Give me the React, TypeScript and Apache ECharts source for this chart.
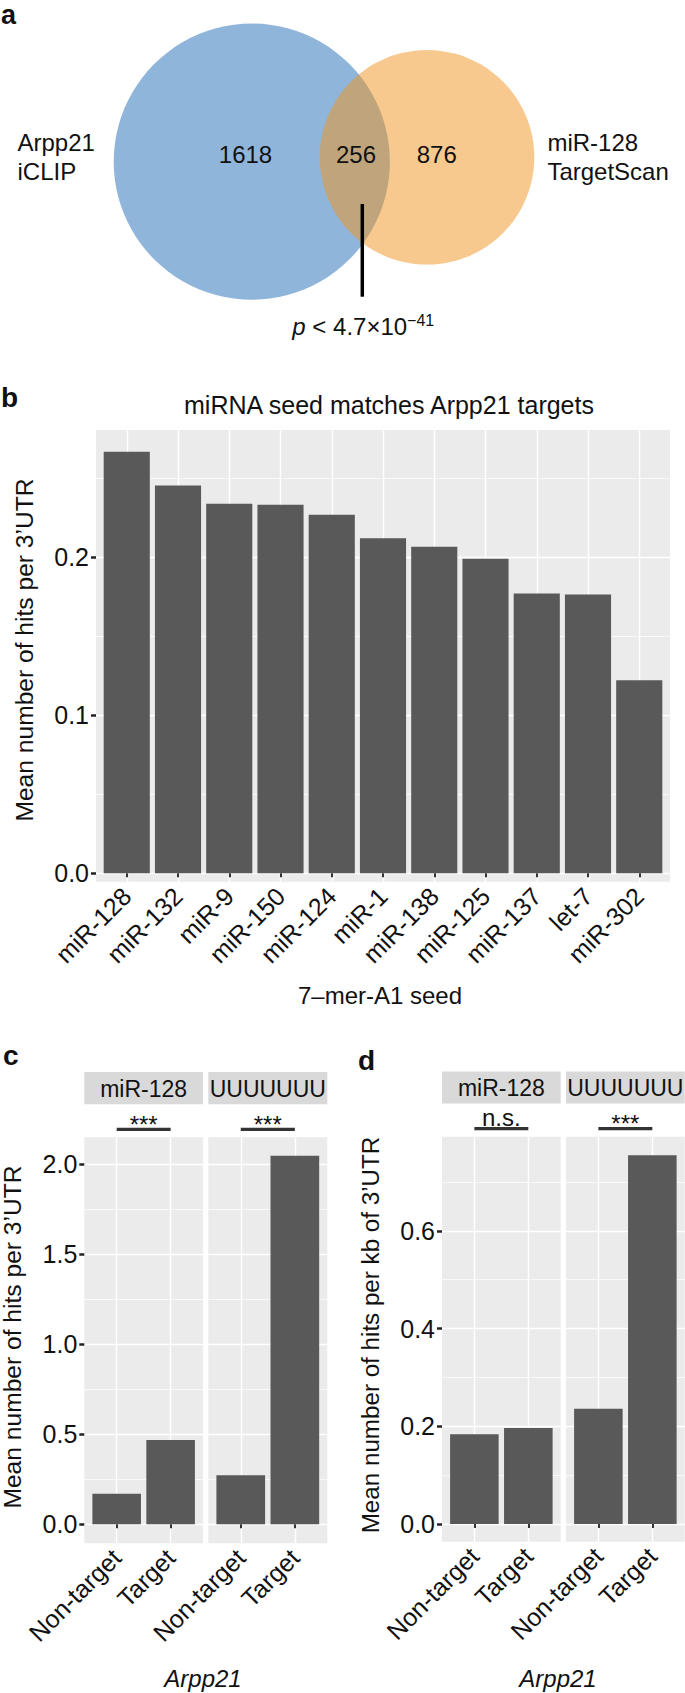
import React, { useEffect, useRef } from "react";
import * as echarts from "echarts";

// ---------- data ----------
const vennSetA = ["Arpp21", "iCLIP"];
const vennSetB = ["miR-128", "TargetScan"];
const vennCounts = [1618, 256, 876]; // only A, A∩B, only B
const vennPText = "4.7×10";
const vennPExp = "−41";

const seedCategories = ["miR-128", "miR-132", "miR-9", "miR-150", "miR-124", "miR-1", "miR-138", "miR-125", "miR-137", "let-7", "miR-302"];
const seedValues = [0.267, 0.2455, 0.234, 0.2334, 0.227, 0.2121, 0.2068, 0.1992, 0.1771, 0.1766, 0.1223];
const seedTicks = [0, 0.1, 0.2];
const seedMinor = [0.05, 0.15, 0.25];

const groupCategories = ["Non-target", "Target"];
const facetLabels = ["miR-128", "UUUUUUU"];
const hitsPerUTR_miR128 = [0.17, 0.468];
const hitsPerUTR_U7 = [0.272, 2.048];
const hitsPerKb_miR128 = [0.1836, 0.1965];
const hitsPerKb_U7 = [0.236, 0.755];
const cTicks = [0, 0.5, 1, 1.5, 2];
const cMinor = [0.25, 0.75, 1.25, 1.75];
const dTicks = [0, 0.2, 0.4, 0.6];
const dMinor = [0.1, 0.3, 0.5, 0.7];
const cSignif = ["***", "***"];
const dSignif = ["n.s.", "***"];

// ---------- style / layout ----------
const FONT = '"Liberation Sans", Arial, Helvetica, sans-serif';
const TEXT = "#111111";
const BAR = "#595959";
const PANEL_BG = "#ebebeb";
const STRIP_BG = "#d9d9d9";
const AXIS_FS = 25;

type Panel = {
  left: number; top: number; width: number; height: number;
  ymin: number; ymax: number; cats: string[]; values: number[];
  ticks: number[]; minor: number[]; showY: boolean;
};

const panels: Panel[] = [
  { left: 96, top: 430, width: 574, height: 451.7, ymin: -0.0053, ymax: 0.2807, cats: seedCategories, values: seedValues, ticks: seedTicks, minor: seedMinor, showY: true },
  { left: 84.3, top: 1137.3, width: 118.7, height: 406, ymin: -0.1056, ymax: 2.15, cats: groupCategories, values: hitsPerUTR_miR128, ticks: cTicks, minor: cMinor, showY: true },
  { left: 208.3, top: 1137.3, width: 119, height: 406, ymin: -0.1056, ymax: 2.15, cats: groupCategories, values: hitsPerUTR_U7, ticks: cTicks, minor: cMinor, showY: false },
  { left: 442, top: 1136.7, width: 118.7, height: 405, ymin: -0.0362, ymax: 0.7928, cats: groupCategories, values: hitsPerKb_miR128, ticks: dTicks, minor: dMinor, showY: true },
  { left: 566, top: 1136.7, width: 118.7, height: 405, ymin: -0.0362, ymax: 0.7928, cats: groupCategories, values: hitsPerKb_U7, ticks: dTicks, minor: dMinor, showY: false },
];

const catX = (p: Panel, j: number) => p.left + ((j + 1 - 0.4) / (p.cats.length + 0.2)) * p.width;

const txt = (text: string, x: number, y: number, extra: any = {}, el: any = {}) => ({
  type: "text",
  x,
  y,
  silent: true,
  ...el,
  style: { text, fontSize: 24, fontFamily: FONT, fill: TEXT, align: "center", verticalAlign: "middle", ...extra },
});

function buildOption() {
  const grid = panels.map((p) => ({
    left: p.left, top: p.top, width: p.width, height: p.height,
    show: true, backgroundColor: PANEL_BG, borderWidth: 0, containLabel: false,
  }));

  const xAxis = panels.map((p, i) => {
    const idx = p.cats.map((_, j) => j + 1);
    return {
      type: "value", gridIndex: i, min: 0.4, max: p.cats.length + 0.6,
      axisLine: { show: false },
      axisTick: { show: true, customValues: idx, length: 4, lineStyle: { color: "#333", width: 2 } },
      axisLabel: {
        customValues: idx,
        formatter: (v: number) => p.cats[Math.round(v) - 1] ?? "",
        rotate: 45, fontSize: AXIS_FS, fontFamily: FONT, color: TEXT, margin: 10,
      },
      splitLine: { show: true, lineStyle: { color: "#ffffff", width: 1.4 } },
    };
  });

  const yAxis: any[] = [];
  panels.forEach((p, i) => {
    yAxis.push({
      type: "value", gridIndex: i, min: p.ymin, max: p.ymax, position: "left",
      axisLine: { show: false },
      axisTick: { show: p.showY, customValues: p.ticks, length: 5, lineStyle: { color: "#222", width: 2.5 } },
      axisLabel: {
        show: p.showY, customValues: p.ticks,
        formatter: (v: number) => Number(v).toFixed(1),
        fontSize: AXIS_FS, fontFamily: FONT, color: TEXT, margin: 7,
      },
      splitLine: { show: true, lineStyle: { color: "#ffffff", width: 1.4 } },
    });
    yAxis.push({
      type: "value", gridIndex: i, min: p.ymin, max: p.ymax, position: "left",
      axisLine: { show: false },
      axisTick: { show: false, customValues: p.minor },
      axisLabel: { show: false },
      splitLine: { show: true, lineStyle: { color: "#ffffff", width: 0.7 } },
    });
  });

  const series = panels.map((p, i) => ({
    type: "bar",
    xAxisIndex: i,
    yAxisIndex: 2 * i,
    data: p.values.map((v, j) => [j + 1, v]),
    barWidth: (0.9 * p.width) / (p.cats.length + 0.2),
    itemStyle: { color: BAR },
    silent: true,
  }));

  // ---- Venn (panel a) ----
  const VENN_SCALE = 3.19; // px per sqrt(genes): circle area proportional to set size
  const rA = VENN_SCALE * Math.sqrt(vennCounts[0] + vennCounts[1]);
  const rB = VENN_SCALE * Math.sqrt(vennCounts[1] + vennCounts[2]);
  const A = { cx: 251.8, cy: 161.7 };
  const B = { cx: 427, cy: 157.3 };

  const graphic: any[] = [
    { type: "circle", silent: true, shape: { cx: A.cx, cy: A.cy, r: rA }, style: { fill: "rgba(31,109,181,0.5)" } },
    { type: "circle", silent: true, shape: { cx: B.cx, cy: B.cy, r: rB }, style: { fill: "rgba(241,147,29,0.5)" } },
    txt(vennSetA[0], 17.5, 142, { align: "left" }),
    txt(vennSetA[1], 17.5, 171, { align: "left" }),
    txt(vennSetB[0], 547.4, 142, { align: "left" }),
    txt(vennSetB[1], 547.4, 171, { align: "left" }),
    txt(String(vennCounts[0]), 245.5, 154.5),
    txt(String(vennCounts[1]), 356, 154.5),
    txt(String(vennCounts[2]), 436.7, 154.5),
    { type: "line", silent: true, shape: { x1: 362.3, y1: 204, x2: 362.3, y2: 296.7 }, style: { stroke: "#000", lineWidth: 3.5 } },
    txt(`{it|p} < ${vennPText}{sup|${vennPExp}}`, 363.3, 326, {
      rich: {
        it: { fontStyle: "italic", fontSize: 24, fontFamily: FONT, fill: TEXT },
        sup: { fontSize: 16, fontFamily: FONT, fill: TEXT, verticalAlign: "top", padding: [0, 0, 11, 0] },
      },
    }),
    // panel letters
    txt("a", 1, 15, { align: "left", fontSize: 27, fontWeight: "bold", lineHeight: 20 }),
    txt("b", 1, 397, { align: "left", fontSize: 28, fontWeight: "bold", lineHeight: 20 }),
    txt("c", 3, 1055, { align: "left", fontSize: 28, fontWeight: "bold", lineHeight: 20 }),
    txt("d", 358, 1060, { align: "left", fontSize: 28, fontWeight: "bold", lineHeight: 20 }),
    // panel b titles
    txt("miRNA seed matches Arpp21 targets", 389, 405, { fontSize: 25 }),
    txt("7–mer-A1 seed", 380, 995, { fontSize: 24 }),
    txt("Mean number of hits per 3’UTR", 24, 650, { fontSize: 24.6 }, { rotation: Math.PI / 2 }),
    // panel c / d titles
    txt("Mean number of hits per 3’UTR", 12.5, 1337, { fontSize: 24.6 }, { rotation: Math.PI / 2 }),
    txt("Mean number of hits per kb of 3’UTR", 370, 1335, { fontSize: 24.2 }, { rotation: Math.PI / 2 }),
    txt("Arpp21", 203, 1678, { fontStyle: "italic" }),
    txt("Arpp21", 558, 1678, { fontStyle: "italic" }),
  ];

  // strips + significance annotations for facet panels
  const facetPanels = [panels[1], panels[2], panels[3], panels[4]];
  const sigs = [cSignif[0], cSignif[1], dSignif[0], dSignif[1]];
  facetPanels.forEach((p, k) => {
    const stripTop = p.top - 65.3;
    graphic.push({ type: "rect", silent: true, shape: { x: p.left, y: stripTop, width: p.width, height: 32.2 }, style: { fill: STRIP_BG } });
    graphic.push(txt(facetLabels[k % 2], p.left + p.width / 2, stripTop + 16.5, { fontSize: 23 }));
    const x1 = catX(p, 0);
    const x2 = catX(p, 1);
    graphic.push({ type: "line", silent: true, shape: { x1, y1: p.top - 8, x2, y2: p.top - 8 }, style: { stroke: "#333", lineWidth: 3.3 } });
    const s = sigs[k];
    graphic.push(txt(s, (x1 + x2) / 2, s === "***" ? p.top - 13 : p.top - 19, { fontSize: 24 }));
  });

  return {
    animation: false,
    backgroundColor: "#ffffff",
    grid,
    xAxis,
    yAxis,
    series,
    graphic,
  };
}

export default function App() {
  const ref = useRef<HTMLDivElement>(null);
  useEffect(() => {
    if (!ref.current) return;
    const chart = echarts.init(ref.current, null, { renderer: "svg" });
    chart.setOption(buildOption() as any);
    return () => chart.dispose();
  }, []);
  return (
    <div
      ref={ref}
      style={{ position: "absolute", left: 0, top: 0, width: 685, height: 1693, background: "#fff" }}
    />
  );
}
